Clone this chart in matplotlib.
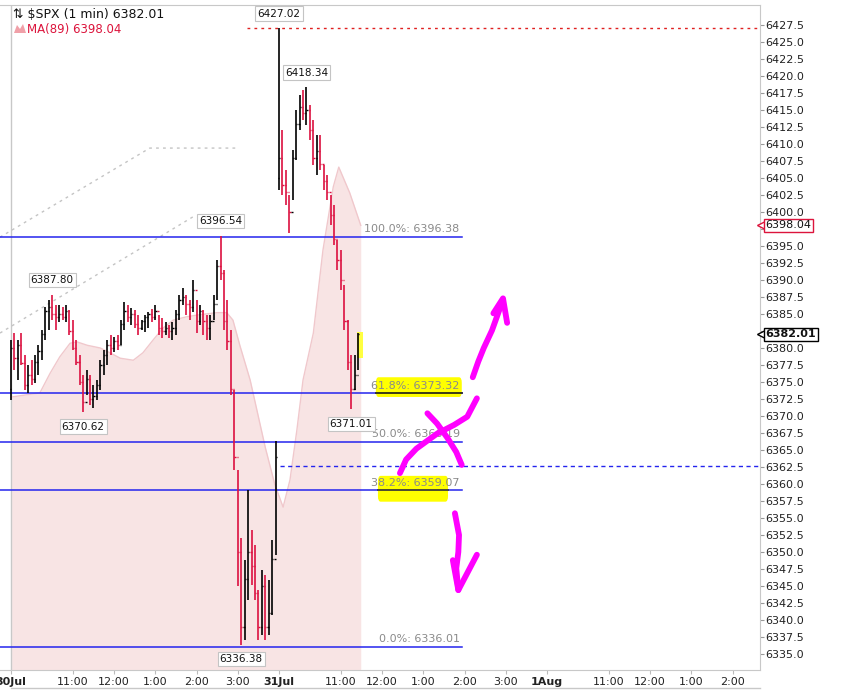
import matplotlib
matplotlib.use('Agg')
import matplotlib.pyplot as plt
from matplotlib.patches import FancyBboxPatch, Polygon
import numpy as np

# x = trading minutes since 30 Jul 9:30, sessions joined end to end (390 min each)
# 5-minute bars
bar_minutes = np.arange(0, 510, 5)
highs = [6381.2, 6382.2, 6381.2, 6382.2, 6379.0, 6377.5, 6378.2, 6379.0, 6380.4, 6382.6,
         6386.0, 6387.1, 6387.80, 6386.3, 6386.3, 6386.0, 6386.3, 6385.6, 6384.1, 6381.2,
         6379.0, 6376.0, 6376.8, 6376.0, 6374.6, 6375.3, 6378.2, 6379.7, 6381.2, 6381.9,
         6381.6, 6381.9, 6384.1, 6386.8, 6386.3, 6385.9, 6385.6, 6384.9, 6384.1, 6384.9,
         6385.3, 6385.8, 6386.3, 6384.9, 6384.4, 6383.8, 6383.4, 6383.8, 6385.6, 6387.8,
         6388.8, 6387.8, 6387.1, 6390.0, 6387.1, 6386.3, 6385.6, 6384.9, 6384.9, 6387.8,
         6393.0, 6396.54, 6391.5, 6387.1, 6382.6, 6373.8, 6362.0, 6352.0, 6348.8, 6359.1,
         6353.2, 6351.0, 6344.4, 6347.4, 6346.6, 6345.9, 6351.8, 6366.3,
         6427.02, 6412.1, 6406.2, 6402.5, 6409.1, 6415.0, 6417.2, 6417.9, 6418.34, 6415.7,
         6413.5, 6411.3, 6411.3, 6406.9, 6405.4, 6402.5, 6401.0, 6395.9, 6394.4, 6389.3,
         6384.1, 6379.0, 6379.0, 6382.2]
lows = [6372.4, 6376.8, 6375.3, 6377.5, 6373.8, 6373.4, 6374.6, 6374.9, 6376.0, 6378.2,
        6381.2, 6382.6, 6384.1, 6382.6, 6383.8, 6384.1, 6383.8, 6381.9, 6379.7, 6377.5,
        6374.6, 6370.62, 6373.1, 6371.6, 6371.2, 6372.4, 6373.8, 6376.0, 6377.5, 6379.0,
        6379.4, 6379.7, 6380.4, 6382.6, 6383.8, 6383.4, 6383.0, 6381.9, 6382.6, 6382.4,
        6383.0, 6383.8, 6384.1, 6381.9, 6381.5, 6381.9, 6381.5, 6381.2, 6381.9, 6384.1,
        6386.3, 6384.9, 6384.1, 6385.3, 6382.2, 6383.4, 6381.9, 6381.2, 6381.2, 6384.1,
        6387.1, 6390.0, 6382.6, 6379.7, 6373.1, 6362.0, 6345.0, 6336.38, 6337.1, 6342.9,
        6345.1, 6342.9, 6337.1, 6337.8, 6337.1, 6337.8, 6340.7, 6349.5,
        6403.2, 6402.5, 6401.0, 6396.9, 6401.8, 6407.6, 6412.1, 6413.5, 6412.8, 6410.6,
        6406.9, 6405.4, 6406.2, 6403.2, 6401.8, 6398.1, 6395.1, 6391.5, 6388.5, 6382.6,
        6376.8, 6371.01, 6373.8, 6376.8]
closes = [6380.0, 6378.5, 6380.5, 6377.8, 6374.5, 6376.0, 6375.5, 6378.0, 6379.5, 6382.0,
          6385.5, 6386.0, 6385.0, 6384.5, 6385.0, 6384.5, 6385.5, 6382.5, 6380.0, 6378.0,
          6375.0, 6372.0, 6375.5, 6372.5, 6373.0, 6374.5, 6377.5, 6379.0, 6380.5, 6380.0,
          6381.0, 6380.5, 6383.5, 6385.5, 6384.5, 6385.0, 6383.5, 6383.0, 6384.0, 6384.5,
          6385.0, 6384.5, 6385.5, 6383.0, 6382.5, 6383.0, 6382.5, 6383.0, 6385.0, 6387.0,
          6387.5, 6386.5, 6386.0, 6388.5, 6384.0, 6385.5, 6384.0, 6383.0, 6384.0, 6386.5,
          6392.0, 6391.0, 6384.0, 6381.0, 6374.0, 6364.0, 6350.0, 6339.0, 6346.0, 6350.0,
          6348.0, 6344.0, 6339.0, 6345.0, 6339.0, 6341.0, 6349.0, 6364.0,
          6408.0, 6404.0, 6403.0, 6400.0, 6408.0, 6413.0, 6415.5, 6414.5, 6415.0, 6412.0,
          6408.0, 6409.0, 6407.0, 6404.5, 6403.0, 6399.5, 6396.0, 6393.0, 6390.0, 6384.0,
          6378.0, 6374.0, 6376.0, 6382.01]
session_opens = {0: 6374.0, 78: 6405.0}

# MA(89) line
ma_minutes = [1, 42, 57, 71, 86, 96, 111, 130, 144, 159, 178, 192, 207, 221, 236, 256, 275,
              300, 314, 323, 333, 348, 370, 384, 396, 406, 416, 425, 440, 454, 469, 477,
              493, 509]
ma_values = [6372.8, 6373.4, 6376.3, 6378.7, 6380.7, 6380.9, 6380.4, 6380.0, 6379.3, 6378.5,
             6378.2, 6379.3, 6381.2, 6382.9, 6384.1, 6384.6, 6384.9, 6385.2, 6385.2, 6384.1,
             6380.4, 6375.3, 6365.4, 6359.9, 6356.6, 6360.6, 6367.9, 6375.3, 6382.2, 6394.4,
             6403.7, 6406.6, 6402.8, 6398.04]

# Fibonacci retracement
fib_pcts = ['100.0%', '61.8%', '50.0%', '38.2%', '0.0%']
fib_levels = [6396.38, 6373.32, 6366.19, 6359.07, 6336.01]
fib_end = 656

extreme_labels = [6387.80, 6370.62, 6396.54, 6336.38, 6427.02, 6418.34, 6371.01]
last_price = 6382.01
ma_last = 6398.04
dashed_level = 6362.7
spike_level = 6427.02

tick_minutes = [0, 90, 150, 210, 270, 330, 390, 480, 540, 600, 660, 720, 780, 870, 930, 990, 1050]
tick_labels = ['30Jul', '11:00', '12:00', '1:00', '2:00', '3:00', '31Jul', '11:00', '12:00',
               '1:00', '2:00', '3:00', '1Aug', '11:00', '12:00', '1:00', '2:00']
day_ticks = ['30Jul', '31Jul', '1Aug']

# trend lines drawn on the chart (minute, price)
channel_upper = ([-16, 202, 329], [6396.3, 6409.4, 6409.4])
channel_lower = ([-16, 265], [6382.2, 6399.3])

# hand-drawn marker strokes (minute, price)
strokes = [
    ([672, 680, 688, 700, 716], [6375.7, 6378.0, 6380.0, 6382.6, 6387.1]),
    ([702, 716, 722], [6385.1, 6387.3, 6383.7]),
    ([566, 575, 590, 620, 645, 664, 678], [6361.6, 6363.6, 6365.2, 6367.4, 6368.7, 6369.9, 6372.6]),
    ([606, 620, 635, 648, 656], [6370.4, 6368.9, 6366.8, 6364.7, 6362.8]),
    ([646, 652, 651, 648, 651], [6355.7, 6352.5, 6350.0, 6347.6, 6344.4]),
    ([643, 651, 678], [6348.8, 6344.4, 6349.6]),
]

RED = '#dc1040'
BLUE = '#2424ee'

fig = plt.figure(figsize=(8.65, 6.92), dpi=100)
ax = fig.add_axes([0, 22 / 692, 760 / 865, 665 / 692])
ax.set_xlim(-16, 1090)
ax.set_ylim(6332.65, 6430.44)

# MA shading
ax.fill_between(ma_minutes, ma_values, 6332.65, color='#f8e4e4', lw=0, zorder=1)
ax.plot(ma_minutes, ma_values, color='#f0c8cc', lw=1, zorder=1.2)
ax.axvline(0, color='#c8c8c8', lw=1, zorder=1.1)

# fib lines
for pct, lvl in zip(fib_pcts, fib_levels):
    ax.plot([-16, fib_end], [lvl, lvl], color=BLUE, lw=1.1, zorder=2)
    ax.annotate(f'{pct}: {lvl:.2f}', xy=(fib_end - 3, lvl), xytext=(0, 2),
                textcoords='offset points', ha='right', va='bottom', fontsize=8,
                color='#8a8a8a', zorder=4)

# yellow highlighter
for x0, x1, y0, y1 in [(531, 656, 6372.8, 6375.7), (534, 636, 6357.4, 6361.2)]:
    ax.add_patch(FancyBboxPatch((x0, y0), x1 - x0, y1 - y0,
                                boxstyle='round,pad=0,rounding_size=4',
                                mutation_aspect=0.2, fc='#ffff00', ec='none', zorder=3))
ax.plot([531, fib_end], [fib_levels[1], fib_levels[1]], color='#1a1a1a', lw=1.2, zorder=3.1)
ax.plot([534, 636], [fib_levels[3], fib_levels[3]], color='#1a1a40', lw=1.1, zorder=3.1)

# channel / reference lines
ax.plot(*channel_upper, color='#c4c4c4', lw=1, ls=(0, (2, 3)), zorder=1.5)
ax.plot(*channel_lower, color='#c4c4c4', lw=1, ls=(0, (2, 3)), zorder=1.5)
ax.plot([343, 1090], [spike_level, spike_level], color='#e02020', lw=1, ls=(0, (2, 3)), zorder=2)
ax.plot([392, 1090], [dashed_level, dashed_level], color=BLUE, lw=1, ls=(0, (3, 2.5)), zorder=2)

# last bar highlight
ax.add_patch(plt.Rectangle((504, 6378.5), 8, 3.9, fc='#ffff40', ec='none', zorder=2.5))

# price bars
opens = [session_opens.get(i, closes[i - 1]) for i in range(len(closes))]
for m, o, h, l, c in zip(bar_minutes, opens, highs, lows, closes):
    col = RED if c < o else 'black'
    ax.vlines(m, l, h, color=col, lw=1.2, zorder=2.8)
    ax.hlines(o, m - 1.8, m, color=col, lw=1.0, zorder=2.8)
    ax.hlines(c, m, m + 1.8, color=col, lw=1.0, zorder=2.8)

# high / low value boxes
for val in extreme_labels:
    if val in highs:
        i = highs.index(val)
        off, va = 7, 'bottom'
    else:
        i = lows.index(val)
        off, va = -7, 'top'
    ax.annotate(f'{val:.2f}', xy=(bar_minutes[i], val), xytext=(0, off),
                textcoords='offset points', ha='center', va=va, fontsize=7.5,
                color='#111111', zorder=6,
                bbox=dict(boxstyle='square,pad=0.2', fc='white', ec='#c4c4c4', lw=0.8))

# marker strokes
for xs, ys in strokes:
    ax.plot(xs, ys, color='#ff00ff', lw=4.2, solid_capstyle='round',
            solid_joinstyle='round', zorder=7)

# axes styling
ax.spines['left'].set_visible(False)
for s in ['top', 'right', 'bottom']:
    ax.spines[s].set_color('#c8c8c8')
ax.yaxis.tick_right()
yt = np.arange(6335.0, 6428.0, 2.5)
ax.set_yticks(yt)
# labels sitting under the price flags are left blank
ax.set_yticklabels(['' if v in (6397.5, 6382.5) else f'{v:.1f}' for v in yt])
ax.tick_params(axis='y', length=3, pad=1, labelsize=8, colors='#222222', color='#999999')
ax.set_xticks(tick_minutes)
ax.set_xticklabels(tick_labels)
ax.tick_params(axis='x', length=3, pad=2, labelsize=8, colors='#222222', color='#bbbbbb')
for lab in ax.get_xticklabels():
    if lab.get_text() in day_ticks:
        lab.set_fontweight('bold')

# right-axis price flags
for val, ec, wt in [(ma_last, '#dc143c', 'normal'), (last_price, 'black', 'bold')]:
    ax.plot([1.003], [val], marker='<', ms=7, mfc='white', mec=ec, mew=1,
            transform=ax.get_yaxis_transform(), clip_on=False, zorder=8)
    ax.annotate(f'{val:.2f}', xy=(1.0, val), xycoords=('axes fraction', 'data'),
                xytext=(4, 0), textcoords='offset points', ha='left', va='center',
                fontsize=8, fontweight=wt, color='#111111', zorder=9,
                bbox=dict(boxstyle='square,pad=0.15', fc='white', ec=ec, lw=1))

# header
fig.text(13 / 865, 1 - 15 / 692, '⇅ $SPX (1 min) 6382.01', fontsize=9, color='#111111',
         va='center', ha='left')
fig.add_artist(Polygon([[14 / 865, 1 - 33 / 692], [17 / 865, 1 - 25 / 692],
                        [20 / 865, 1 - 29 / 692], [23 / 865, 1 - 24 / 692],
                        [26 / 865, 1 - 33 / 692]], closed=True,
                       transform=fig.transFigure, fc='#f0a0a8', ec='none'))
fig.text(27 / 865, 1 - 29 / 692, 'MA(89) 6398.04', fontsize=8.5, color='#dc143c',
         va='center', ha='left')
fig.add_artist(plt.Line2D([11 / 865, 760 / 865], [1 - 688 / 692, 1 - 688 / 692],
                          color='#c8c8c8', lw=1, transform=fig.transFigure))

fig.savefig('out.png', dpi=100)
